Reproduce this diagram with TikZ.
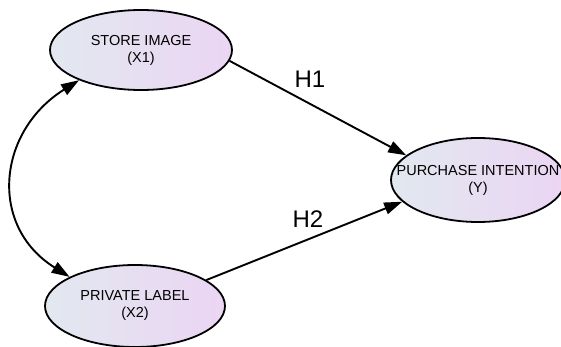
\documentclass[tikz,border=0pt]{standalone}
\usepackage{fontspec}
\setmainfont{Liberation Sans}
\usepackage{xcolor}
\usepackage{tikz}
\usetikzlibrary{shapes,arrows.meta,positioning,calc}

\definecolor{latleft}{RGB}{226,232,240}
\definecolor{latright}{RGB}{235,213,243}

\begin{document}
\begin{tikzpicture}[
    x=1pt, y=-1pt,
    >={Triangle[length=18pt,width=12pt]},
    latent/.style={ellipse, draw, line width=1.8pt, inner sep=0pt,
        left color=latleft, right color=latright},
    lbl/.style={align=center, font=\fontsize{14.5}{17}\selectfont},
    hyp/.style={font=\fontsize{24}{28}\selectfont},
    arrow/.style={->, line width=1.9pt}
]
\useasboundingbox (0,0) rectangle (561,347);

% Constructs
\node[latent, minimum width=182pt, minimum height=80pt,
    label={[lbl]center:STORE IMAGE\\(X1)}] (si) at (141,50) {};
\node[latent, minimum width=180pt, minimum height=82pt,
    label={[lbl]center:PRIVATE LABEL\\(X2)}] (pl) at (135,306) {};
\node[latent, minimum width=174pt, minimum height=84pt,
    label={[lbl]center:PURCHASE INTENTION\\(Y)}] (pt) at (478,180) {};

% Hypotheses
\draw[arrow] (si.-7) -- (pt.161);
\draw[arrow] (pl.20) -- (pt.196);
\node[hyp] (h1) at (310,79) {H1};
\node[hyp] (h2) at (308,219) {H2};

% Correlation between X1 and X2
\draw[arrow, <->] (si.206) to[out=212, in=148, looseness=1.25] (pl.156);

\end{tikzpicture}
\end{document}
